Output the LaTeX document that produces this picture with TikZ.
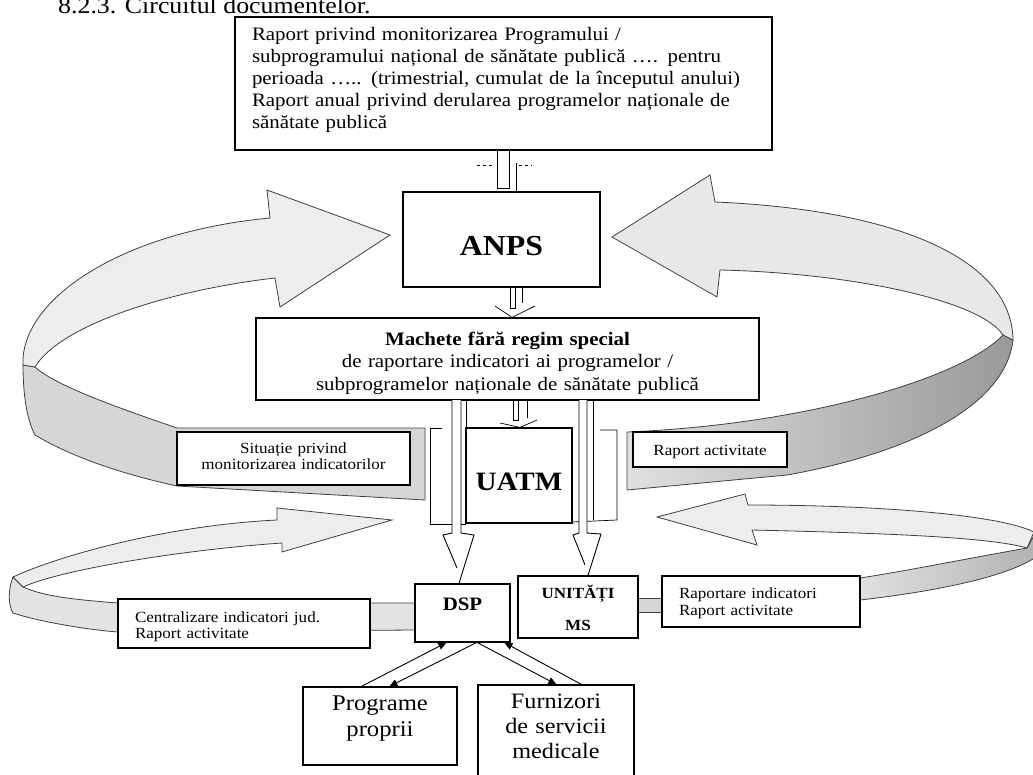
\documentclass[tikz,border=0pt]{standalone}
\usepackage{fontspec}
\setmainfont{Liberation Serif}[FakeStretch=1.1]
\usetikzlibrary{arrows.meta,calc}
\newcommand\fsz[2]{\fontsize{#1}{#2}\selectfont}
\begin{document}
\begin{tikzpicture}[x=1pt,y=-1pt,
  box/.style={draw, line width=1.2pt, fill=white, inner sep=0pt},
  rib/.style={draw=black!75, line width=0.8pt},
  ribtop/.style={rib, fill=black!7},
  ribund/.style={rib, fill=black!16},
  hol/.style={draw, line width=0.9pt},
  thinl/.style={draw, line width=0.7pt},
  con/.style={line width=0.9pt, -{Triangle[length=8pt,width=7pt]}},
]
\useasboundingbox (0,0) rectangle (1033,774);

% title
\node[anchor=base west, inner sep=0pt, font=\fsz{23.5}{26}] (title) at (58,13) {8.2.3. Circuitul documentelor.};

% ---------------- ribbons ----------------
% ribbon 1 (upper left)
\path[ribund] (23,365) .. controls (23,395) and (27,420) .. (35,435) .. controls (80,462) and (140,478) .. (177,486) -- (425,500) -- (425,428) -- (177,428) .. controls (110,405) and (55,385) .. (35,367) -- cycle;
\path[ribtop] (270,218) -- (267,190) -- (390,235) -- (280,307) -- (275,278) .. controls (170,290) and (60,325) .. (35,367) -- (23,365) .. controls (20,300) and (120,232) .. (270,218) -- cycle;
% ribbon 2 (upper right)
\path[rib, left color=black!12, right color=black!40] (1003,335) .. controls (960,380) and (800,425) .. (627,432) -- (627,490) -- (787,475) .. controls (900,455) and (1005,410) .. (1013,340) -- cycle;
\path[ribtop, fill=black!9] (715,202) -- (710,175) -- (612,237) -- (717,297) -- (720,270) .. controls (850,273) and (980,300) .. (1003,335) -- (1013,340) .. controls (1012,260) and (900,210) .. (715,202) -- cycle;
% ribbon 3 (lower left)
\path[ribund, fill=black!11] (13,577) .. controls (8,590) and (8,605) .. (13,613) .. controls (40,622) and (90,630) .. (118,632) -- (415,630) -- (415,603) -- (118,603) .. controls (80,600) and (45,597) .. (23,587) -- cycle;
\path[ribtop] (277,520) -- (277,508) -- (392,520) -- (282,552) -- (282,543) .. controls (180,550) and (60,570) .. (23,587) -- (13,577) .. controls (60,555) and (170,525) .. (277,520) -- cycle;
% ribbon 4 (lower right)
\path[rib, left color=black!12, right color=black!30] (1027,548) .. controls (960,560) and (900,572) .. (860,578) -- (860,600) .. controls (930,592) and (1005,578) .. (1036,557) -- (1036,532) -- cycle;
\path[ribund] (638,598) rectangle (662,612);
\path[ribtop] (748,505) -- (745,494) -- (657,517) -- (757,545) -- (752,530) .. controls (880,533) and (990,537) .. (1027,548) -- (1034,532) .. controls (1000,515) and (880,505) .. (748,505) -- cycle;

% ---------------- boxes ----------------
\node[box, minimum width=537pt, minimum height=133pt, text width=503pt, align=left,
      text height=0pt, text depth=87pt, font=\fsz{19}{22.2}] (top) at (503.5,83.5)
 {Raport privind monitorizarea Programului /\\
  subprogramului național de sănătate publică …. pentru\\
  perioada ….. (trimestrial, cumulat de la începutul anului)\\
  Raport anual privind derularea programelor naționale de\\
  sănătate publică};

\node[box, minimum width=197pt, minimum height=95pt, text height=31pt, text depth=0pt,
      font=\bfseries\fsz{29}{32}] (anps) at (501.5,239.5) {ANPS};

\node[box, minimum width=503pt, minimum height=82pt, text width=480pt, align=center, text height=0pt, text depth=28pt,
      font=\fsz{19}{22.5}] (mach) at (507.5,359)
 {\textbf{Machete fără regim special}\\
  de raportare indicatori ai programelor /\\
  subprogramelor naționale de sănătate publică};

% UATM frame
\draw[thinl] (442,428) -- (430,428) -- (430,524) -- (466,524);
\draw[thinl] (466,0 |- mach.south) -- (466,428);
\draw[thinl] (593,0 |- mach.south) -- (593,520);
\draw[thinl] (572,522) -- (617,520) -- (617,430) -- (600,430);

\node[box, minimum width=106pt, minimum height=95pt, text height=29pt, text depth=0pt,
      font=\bfseries\fsz{26.5}{30}] (uatm) at (519,475.5) {UATM};

\node[box, minimum width=233pt, minimum height=53pt, text width=215pt, align=center, text height=0pt, text depth=11pt,
      font=\fsz{15.5}{16}] (sit) at (293.5,458.5)
 {Situație privind\\ monitorizarea indicatorilor};

\node[box, minimum width=154pt, minimum height=35pt, text height=11pt, text depth=0pt,
      font=\fsz{15.5}{16}] (rap1) at (710,449.5) {Raport activitate};

\node[box, minimum width=252pt, minimum height=49pt, text width=218pt, align=left, text height=0pt, text depth=3pt,
      font=\fsz{15.5}{16}] (cent) at (244,623.5)
 {Centralizare indicatori jud.\\ Raport activitate};

\node[box, minimum width=198pt, minimum height=51pt, text width=164pt, align=left, text height=0pt, text depth=7pt,
      font=\fsz{15.5}{17}] (rapi) at (761,601.5)
 {Raportare indicatori\\ Raport activitate};

\node[box, minimum width=95pt, minimum height=58pt, text height=0pt, text depth=6pt,
      font=\bfseries\fsz{19}{22}] (dsp) at (462.5,613) {DSP};

\node[box, minimum width=120pt, minimum height=62pt, text width=110pt, align=center, text height=0pt, text depth=18pt,
      font=\bfseries\fsz{15.5}{32}] (unit) at (578,607) {UNITĂȚI\\ MS};

\node[box, minimum width=154pt, minimum height=78pt, text width=140pt, align=center, text height=0pt, text depth=32pt,
      font=\fsz{22.4}{26}] (prog) at (380,726) {Programe\\ proprii};

\node[box, minimum width=156pt, minimum height=105pt, text width=145pt, align=center, text height=0pt, text depth=59pt,
      font=\fsz{22}{25}] (furn) at (556,737.5) {Furnizori\\ de servicii\\ medicale};

% ---------------- hollow arrows ----------------
% top box -> ANPS
\draw[hol, fill=white] (497,0 |- top.south) -- (497,188) -- (509,188) -- (509,0 |- top.south);
\draw[thinl] (516,163) -- (516,0 |- anps.north);
\draw[thinl, dashed] (477,165) -- (493,165) (519,165) -- (532,165);
% ANPS -> Machete
\draw[hol] (510,0 |- anps.south) -- (510,308) -- (515,308) -- (515,0 |- anps.south);
\draw[thinl] (522,0 |- anps.south) -- (522,303);
\draw[thinl] (495,306) -- (512,0 |- mach.north) -- (535,306);
% Machete -> UATM
\draw[hol] (513,0 |- mach.south) -- (513,420) -- (518,420) -- (518,0 |- mach.south);
\draw[thinl] (527,0 |- mach.south) -- (527,418);
\draw[thinl] (500,423) -- (520,0 |- uatm.north) -- (537,420);

% Machete -> DSP
\fill[white] (452,400) -- (452,533) -- (443,535) -- (457,568) -- (474,535) -- (461,533) -- (461,400) -- cycle;
\draw[hol] (452,0 |- mach.south) -- (452,533) -- (443,535) -- (457,568);
\draw[hol] (461,0 |- mach.south) -- (461,533) -- (474,535) -- (459,0 |- dsp.north);
% Machete -> UNITATI
\fill[white] (579,400) -- (579,533) -- (573,535) -- (585,565) -- (601,534) -- (587,533) -- (587,400) -- cycle;
\draw[hol] (579,0 |- mach.south) -- (579,533) -- (573,535) -- (585,565);
\draw[hol] (587,0 |- mach.south) -- (587,533) -- (601,534) -- (588,0 |- unit.north);

% ---------------- DSP connectors ----------------
\draw[con] ($(prog.north west)+(59,0)$) -- ($(dsp.south west)+(32,0)$);
\draw[con] ($(dsp.south west)+(62,0)$) -- ($(prog.north west)+(87,0)$);
\draw[con] ($(dsp.south west)+(63,0)$) -- ($(furn.north west)+(79,0)$);
\draw[con] ($(furn.north west)+(104,0)$) -- ($(dsp.south west)+(90,0)$);
\end{tikzpicture}
\end{document}
